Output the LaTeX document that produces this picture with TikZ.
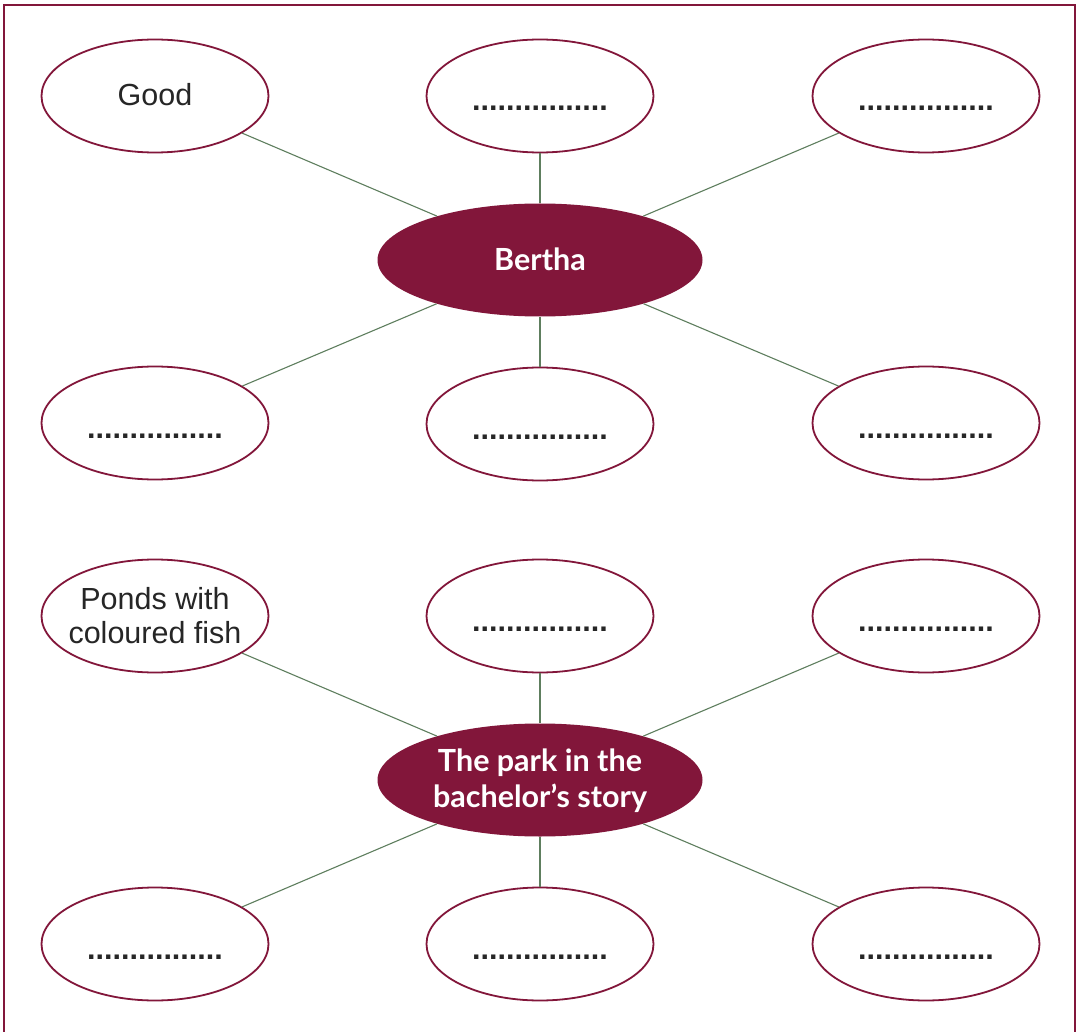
\documentclass[tikz,border=0pt]{standalone}
\usepackage{fontspec}
\setmainfont{Liberation Sans}
\newfontfamily\cfont{Lato}
\usetikzlibrary{shapes.geometric}
\definecolor{maroon}{HTML}{82163A}
\definecolor{conncol}{HTML}{5E7E5E}
\tikzset{
  frame/.style={draw=maroon, line width=2.6pt},
  outer/.style={ellipse, draw=maroon, line width=1.8pt, fill=white, minimum width=227pt, minimum height=113pt, inner sep=0pt},
  hub/.style={ellipse, fill=maroon, minimum width=325pt, minimum height=113pt, inner sep=0pt},
  conn/.style={draw=conncol, line width=1.1pt},
  txt/.style={inner sep=0pt, text=black!85, font=\fontsize{30.5}{34}\selectfont, align=center},
  dottxt/.style={txt, font=\bfseries\fontsize{30.5}{34}\selectfont},
  hubtxt/.style={inner sep=0pt, text=white, font=\cfont\bfseries\fontsize{30.5}{36}\selectfont, align=center},
}
\newcommand{\dotsline}{................}
\begin{document}
\begin{tikzpicture}[x=1pt,y=-1pt]
\useasboundingbox (0,0) rectangle (1079,1032);
\fill[white] (0,0) rectangle (1079,1032);
\draw[frame] (4,1045) -- (4,5) -- (1075,5) -- (1075,1045);

% top cluster
\node[hub] (bertha) at (540,260) {};
\node[outer] (a1) at (155,96) {};
\node[outer] (a2) at (540,96) {};
\node[outer] (a3) at (926,96) {};
\node[outer] (a4) at (155,423) {};
\node[outer] (a5) at (540,424) {};
\node[outer] (a6) at (926,423) {};
\foreach \n in {a1,a2,a3,a4,a5,a6} \draw[conn] (\n) -- (bertha);

\node[hubtxt, anchor=base] (berthatxt) at ([yshift=-10.5pt]bertha.center) {Bertha};
\node[txt, anchor=base] (a1t) at ([yshift=-10pt]a1.center) {Good};
\node[dottxt, anchor=base] (a2t) at ([yshift=-15pt]a2.center) {\dotsline};
\node[dottxt, anchor=base] (a3t) at ([yshift=-15pt]a3.center) {\dotsline};
\node[dottxt, anchor=base] (a4t) at ([yshift=-15pt]a4.center) {\dotsline};
\node[dottxt, anchor=base] (a5t) at ([yshift=-15pt]a5.center) {\dotsline};
\node[dottxt, anchor=base] (a6t) at ([yshift=-15pt]a6.center) {\dotsline};

% bottom cluster
\node[hub] (park) at (540,780) {};
\node[outer] (b1) at (155,616) {};
\node[outer] (b2) at (540,616) {};
\node[outer] (b3) at (926,616) {};
\node[outer] (b4) at (155,944) {};
\node[outer] (b5) at (540,944) {};
\node[outer] (b6) at (926,944) {};
\foreach \n in {b1,b2,b3,b4,b5,b6} \draw[conn] (\n) -- (park);

\node[hubtxt] (parktxt) at ([yshift=-1pt]park.center) {The park in the\\bachelor’s story};
\node[txt] (b1t) at ([yshift=0pt]b1.center) {Ponds with\\coloured fish};
\node[dottxt, anchor=base] (b2t) at ([yshift=-15pt]b2.center) {\dotsline};
\node[dottxt, anchor=base] (b3t) at ([yshift=-15pt]b3.center) {\dotsline};
\node[dottxt, anchor=base] (b4t) at ([yshift=-15pt]b4.center) {\dotsline};
\node[dottxt, anchor=base] (b5t) at ([yshift=-15pt]b5.center) {\dotsline};
\node[dottxt, anchor=base] (b6t) at ([yshift=-15pt]b6.center) {\dotsline};
\end{tikzpicture}
\end{document}
